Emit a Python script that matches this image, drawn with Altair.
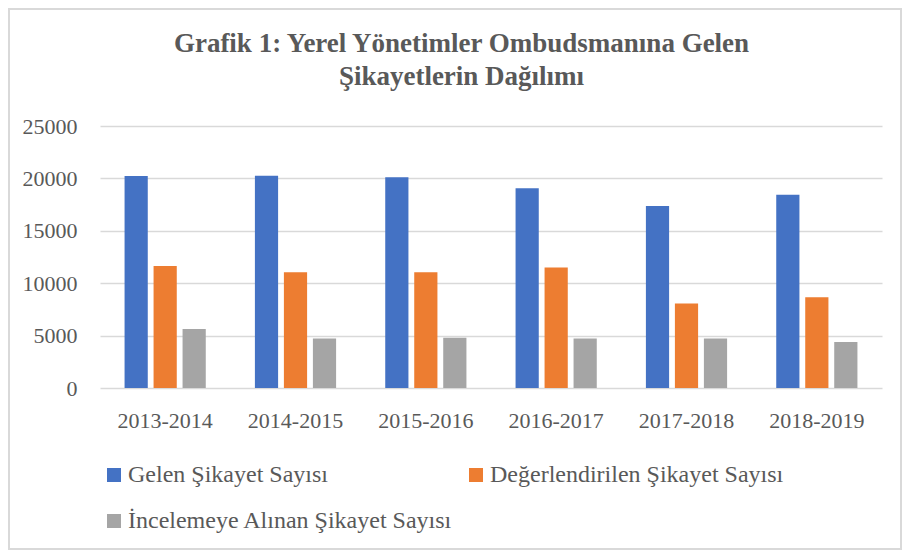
import altair as alt
import pandas as pd

periods = ["2013-2014", "2014-2015", "2015-2016", "2016-2017", "2017-2018", "2018-2019"]
series_names = ["Gelen Şikayet Sayısı", "Değerlendirilen Şikayet Sayısı", "İncelemeye Alınan Şikayet Sayısı"]
gelen = [20220, 20250, 20100, 19050, 17360, 18450]
degerlendirilen = [11650, 11050, 11050, 11490, 8060, 8670]
incelemeye = [5620, 4720, 4790, 4720, 4730, 4380]
colors = ["#4472C4", "#ED7D31", "#A5A5A5"]
y_ticks = [0, 5000, 10000, 15000, 20000, 25000]
title_lines = ["Grafik 1: Yerel Yönetimler Ombudsmanına Gelen", "Şikayetlerin Dağılımı"]

rows = []
for name, vals in zip(series_names, [gelen, degerlendirilen, incelemeye]):
    for p, v in zip(periods, vals):
        rows.append({"period": p, "series": name, "value": v})
df = pd.DataFrame(rows)

FONT = "Liberation Serif"
GREY_TXT = "#595959"

bars = alt.Chart(df).mark_bar().encode(
    x=alt.X("period:N", sort=periods, title=None,
            scale=alt.Scale(paddingInner=0.377, paddingOuter=0.1885),
            axis=alt.Axis(labelAngle=0, domain=False, ticks=False, tickSize=0,
                          labelPadding=22, labelFont=FONT, labelFontSize=22,
                          labelColor=GREY_TXT, grid=False)),
    xOffset=alt.XOffset("series:N", sort=series_names,
                        scale=alt.Scale(paddingInner=0.2, paddingOuter=0)),
    y=alt.Y("value:Q", title=None,
            scale=alt.Scale(domain=[0, 25000], nice=False),
            axis=alt.Axis(values=y_ticks, format="d", domain=False, ticks=False,
                          tickSize=0, labelPadding=23, labelFont=FONT,
                          labelFontSize=22, labelColor=GREY_TXT,
                          grid=True, gridColor="#D9D9D9", gridWidth=1.5)),
    color=alt.Color("series:N", sort=series_names,
                    scale=alt.Scale(domain=series_names, range=colors),
                    legend=alt.Legend(title=None, orient="none", legendX=2, legendY=337,
                                      direction="horizontal",
                                      columns=2, columnPadding=11, rowPadding=22,
                                      symbolType="square", symbolSize=196,
                                      symbolStrokeWidth=0, labelOffset=2,
                                      labelFont=FONT, labelFontSize=24,
                                      labelColor=GREY_TXT, labelLimit=0, padding=0)),
)

one = pd.DataFrame({"k": [0]})

frame = alt.Chart(one).mark_rect(
    fill="transparent", stroke="#D9D9D9", strokeWidth=2
).encode(
    x=alt.value(-91), x2=alt.value(801), y=alt.value(-117), y2=alt.value(423)
)

title_style = dict(font=FONT, fontSize=27, fontWeight="bold", color=GREY_TXT,
                   align="center", baseline="alphabetic")
title1 = alt.Chart(one).mark_text(text=title_lines[0], **title_style).encode(
    x=alt.value(361.5), y=alt.value(-74))
title2 = alt.Chart(one).mark_text(text=title_lines[1], **title_style).encode(
    x=alt.value(361.5), y=alt.value(-41))

chart = alt.layer(frame, bars, title1, title2).properties(
    width=782, height=262,
    autosize=alt.AutoSizeParams(type="none"),
    padding={"left": 92, "top": 118, "right": 20, "bottom": 162},
    background="white",
).configure_view(stroke=None)

chart.save("out.html", embed_options={"renderer": "svg", "actions": False})
